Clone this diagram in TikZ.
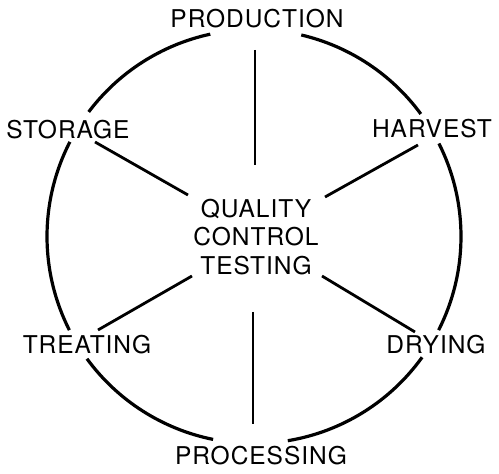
\documentclass[tikz,border=0pt]{standalone}
\usepackage{fontspec}
\usetikzlibrary{calc}
\setmainfont{TeX Gyre Heros}[LetterSpace=4]
\begin{document}
\begin{tikzpicture}[x=1pt,y=1pt,
  lbl/.style={inner sep=0pt, text height=17.5pt, text depth=0pt, font=\fontsize{24.5}{28.5}\selectfont},
  ring/.style={line width=3.2pt},
  spoke/.style={line width=2.8pt}]
\useasboundingbox (0,0) rectangle (499,474);
\coordinate (c) at (254,237.5);
% labels
\node[lbl] (production) at (257,455) {PRODUCTION};
\node[lbl] (storage) at (68,344) {STORAGE};
\node[lbl] (harvest) at (432,345) {HARVEST};
\node[lbl] (treating) at (87,129) {TREATING};
\node[lbl] (drying) at (436,129) {DRYING};
\node[lbl] (processing) at (261,18) {PROCESSING};
\node[inner sep=0pt, align=center, font=\fontsize{24.5}{28.5}\selectfont] (qct) at (256,237) {QUALITY\\CONTROL\\TESTING};
% ring segments
\draw[ring] ($(c)+(102.2:207)$) arc[start angle=102.2, end angle=143, radius=207];
\draw[ring] ($(c)+(76.8:207)$) arc[start angle=76.8, end angle=36.3, radius=207];
\draw[ring] ($(c)+(152.8:207)$) arc[start angle=152.8, end angle=206.9, radius=207];
\draw[ring] ($(c)+(26.7:207)$) arc[start angle=26.7, end angle=-26.9, radius=207];
\draw[ring] ($(c)+(216.2:207)$) arc[start angle=216.2, end angle=258.6, radius=207];
\draw[ring] ($(c)+(-35.7:207)$) arc[start angle=-35.7, end angle=-80.6, radius=207];
% spoke ends
\coordinate (p1) at (255,424); \coordinate (p2) at (255,309);
\coordinate (s1) at (95,332);  \coordinate (s2) at (188,279);
\coordinate (h1) at (418,329); \coordinate (h2) at (325,277);
\coordinate (t1) at (98,144);  \coordinate (t2) at (192,198);
\coordinate (d1) at (415,142); \coordinate (d2) at (322,198);
\coordinate (r1) at (253,162); \coordinate (r2) at (253,50);
\draw[spoke] (p1) -- (p2);
\draw[spoke] (s1) -- (s2);
\draw[spoke] (h1) -- (h2);
\draw[spoke] (t1) -- (t2);
\draw[spoke] (d1) -- (d2);
\draw[spoke] (r1) -- (r2);
\end{tikzpicture}
\end{document}
